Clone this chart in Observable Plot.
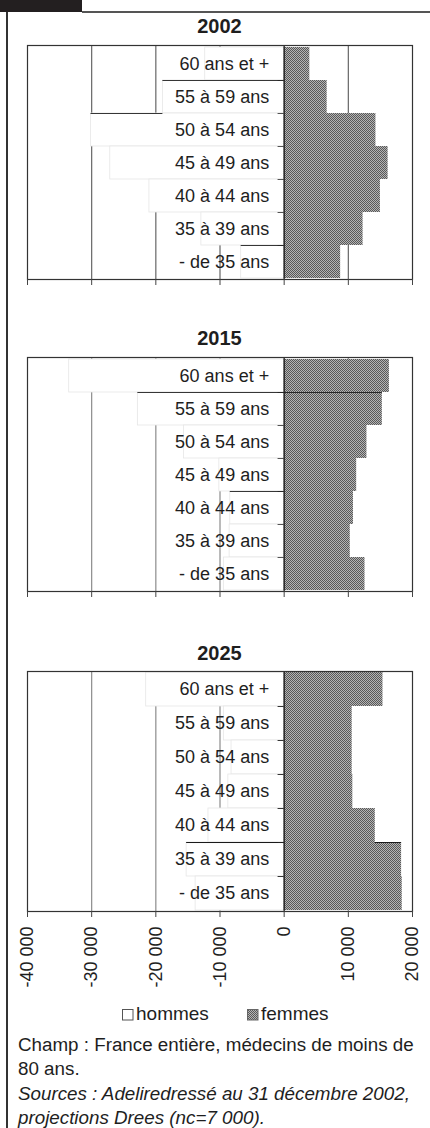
<!DOCTYPE html>
<html>
<head>
<meta charset="utf-8">
<script src="https://cdn.jsdelivr.net/npm/d3@7"></script>
<script src="https://cdn.jsdelivr.net/npm/@observablehq/plot@0.6"></script>
<style>
  html, body { margin: 0; padding: 0; background: #fff; }
  #page { position: relative; width: 430px; height: 1128px; overflow: hidden; background: #fff;
          font-family: "Liberation Sans", Arial, Helvetica, sans-serif; color: #1e1e1e; }
  .abs { position: absolute; }
  .ttl { position: absolute; left: 27px; width: 385px; text-align: center; font-weight: bold;
         font-size: 20px; line-height: 1; }
  .panel { position: absolute; left: 0; }
  .cap { position: absolute; left: 18px; width: 420px; font-size: 18.8px; line-height: 24.5px; white-space: nowrap; }
  .leg { position: absolute; font-size: 19px; line-height: 1; }
</style>
</head>
<body>
<svg width="0" height="0" style="position:absolute">
  <defs>
    <pattern id="femmesPattern" width="2" height="2" patternUnits="userSpaceOnUse">
      <rect width="2" height="2" fill="#b4b4b4"></rect>
      <rect width="1" height="1" fill="#585858"></rect>
      <rect x="1" y="1" width="1" height="1" fill="#585858"></rect>
    </pattern>
  </defs>
</svg>
<div id="page">
  <div class="abs" style="left:0;top:0;width:82px;height:12px;background:#231f20"></div>
  <div class="abs" style="left:82px;top:11px;width:348px;height:1.5px;background:#555"></div>
  <div class="abs" style="left:6px;top:12px;width:1.5px;height:1116px;background:#333"></div>
</div>
<script>
// ---- data ----
const ages = ["60 ans et +", "55 à 59 ans", "50 à 54 ans", "45 à 49 ans", "40 à 44 ans", "35 à 39 ans", "- de 35 ans"];
const years = ["2002", "2015", "2025"];
const hommes2002 = [12300, 18900, 30100, 27100, 21000, 12900, 6700];
const femmes2002 = [4000, 6700, 14300, 16200, 15000, 12300, 8800];
const hommes2015 = [33500, 22800, 15600, 10100, 8400, 8500, 9400];
const femmes2015 = [16400, 15300, 12900, 11300, 10800, 10300, 12600];
const hommes2025 = [21500, 9400, 8200, 8700, 11800, 15200, 13800];
const femmes2025 = [15400, 10600, 10600, 10700, 14200, 18300, 18400];
const xTicks = [-40000, -30000, -20000, -10000, 0, 10000, 20000];
const legendLabels = ["hommes", "femmes"];
// dark top edges visible on some bars: [year, age, sex, partial (only beyond the bar above)]
const topEdges = [
  ["2002", "55 à 59 ans", "hommes", false],
  ["2002", "50 à 54 ans", "hommes", true],
  ["2002", "- de 35 ans", "hommes", false],
  ["2015", "55 à 59 ans", "hommes", false],
  ["2015", "55 à 59 ans", "femmes", false],
  ["2015", "40 à 44 ans", "hommes", false],
  ["2025", "35 à 39 ans", "hommes", false],
  ["2025", "35 à 39 ans", "femmes", true]
];
const captionLines = [
  "Champ : France entière, médecins de moins de",
  "80 ans.",
  "Sources : Adeliredressé au 31 décembre 2002,",
  "projections Drees (nc=7 000)."
];

const fmtLocale = d3.formatLocale({decimal: ",", thousands: " ", grouping: [3], currency: ["", "€"], minus: "-"});
const fmt = fmtLocale.format(",");

const page = document.getElementById("page");

const layout = {
  "2002": {hommes: hommes2002, femmes: femmes2002, top: 40, titleTop: 16.4, mt: 5, ph: 234, mb: 10, grid: "#666", labels: false},
  "2015": {hommes: hommes2015, femmes: femmes2015, top: 350, titleTop: 328, mt: 7, ph: 234, mb: 10, grid: "#8c8c8c", labels: false},
  "2025": {hommes: hommes2025, femmes: femmes2025, top: 664, titleTop: 643, mt: 7, ph: 240, mb: 85, grid: "#8c8c8c", labels: true}
};

for (const year of years) {
  const o = layout[year];
  const rows = ages.map((a, i) => ({age: a, h: -o.hommes[i], f: o.femmes[i]}));
  const bw = o.ph / ages.length;
  const edges = topEdges.filter(e => e[0] === year).map(([y, age, sex, partial]) => {
    const i = ages.indexOf(age);
    const v = sex === "hommes" ? -o.hommes[i] : o.femmes[i];
    const prev = sex === "hommes" ? -o.hommes[i - 1] : o.femmes[i - 1];
    return {age, x1: partial ? prev : 0, x2: v};
  });

  const chart = Plot.plot({
    width: 430,
    height: o.mt + o.ph + o.mb,
    marginLeft: 27,
    marginRight: 18,
    marginTop: o.mt,
    marginBottom: o.mb,
    x: {domain: [-40000, 20000]},
    y: {domain: ages, padding: 0, axis: null},
    style: {fontFamily: '"Liberation Sans", Arial, sans-serif', background: "transparent", color: "#1e1e1e", overflow: "visible"},
    marks: [
      Plot.ruleX(xTicks.filter(t => t !== 0 && t !== -40000 && t !== 20000), {stroke: o.grid, strokeWidth: 1.2}),
      Plot.barX(rows, {x1: 0, x2: "h", y: "age", fill: "white", stroke: "#e6e6e6", strokeWidth: 0.8}),
      Plot.barX(rows, {x1: 0, x2: "f", y: "age", fill: "url(#femmesPattern)"}),
      Plot.barX(edges, {x1: "x1", x2: "x2", y: "age", insetBottom: bw - 1.3, fill: "#1a1a1a"}),
      Plot.barX(ages.slice(1), {x1: 0, x2: -950, y: d => d, insetBottom: bw - 1.2, fill: "#222"}),
      Plot.ruleX([0], {stroke: "#1a1a1a", strokeWidth: 1.3}),
      Plot.frame({stroke: "#333", strokeWidth: 1.2}),
      Plot.axisX({
        ticks: xTicks, tickSize: 6, stroke: "#444",
        tickFormat: o.labels ? fmt : () => "",
        tickRotate: o.labels ? -90 : 0,
        tickPadding: 9, fontSize: 18, label: null
      }),
      Plot.text(rows, {x: 0, y: "age", text: "age", textAnchor: "end", dx: -15, fontSize: 18, fill: "#1e1e1e"})
    ]
  });
  chart.classList.add("panel");
  chart.style.top = o.top + "px";
  page.appendChild(chart);

  const t = document.createElement("div");
  t.className = "ttl";
  t.style.top = o.titleTop + "px";
  t.textContent = year;
  page.appendChild(t);
}

// legend
const legendSpec = [
  {label: legendLabels[0], sx: 122, tx: 136, fill: "white", stroke: "#555"},
  {label: legendLabels[1], sx: 247, tx: 261, fill: "url(#femmesPattern)", stroke: "#666"}
];
for (const l of legendSpec) {
  const sw = document.createElementNS("http://www.w3.org/2000/svg", "svg");
  sw.setAttribute("width", 12); sw.setAttribute("height", 12);
  sw.style.position = "absolute"; sw.style.left = l.sx + "px"; sw.style.top = "1009px";
  sw.innerHTML = `<rect x="0.5" y="0.5" width="10.5" height="10.5" fill="${l.fill}" stroke="${l.stroke}" stroke-width="1"></rect>`;
  page.appendChild(sw);
  const tx = document.createElement("div");
  tx.className = "leg";
  tx.style.left = l.tx + "px";
  tx.style.top = (1020 - 0.8465 * 19) + "px";
  tx.textContent = l.label;
  page.appendChild(tx);
}

// caption
const cap = document.createElement("div");
cap.className = "cap";
cap.style.top = "1032.7px";
cap.innerHTML = captionLines.map((s, i) => i >= 2 ? `<div style="font-style:italic">${s}</div>` : `<div>${s}</div>`).join("");
page.appendChild(cap);
</script>
</body>
</html>
